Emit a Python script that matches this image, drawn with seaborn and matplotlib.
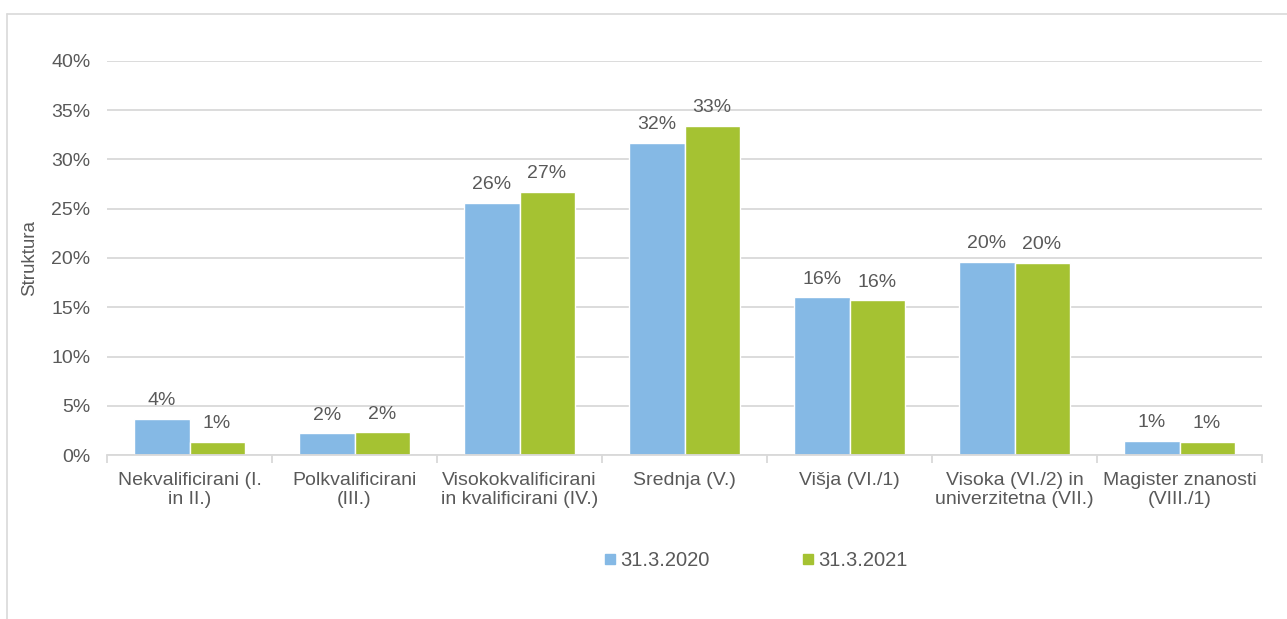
import pandas as pd
import seaborn as sns
import matplotlib.pyplot as plt
from matplotlib.lines import Line2D
from matplotlib.ticker import FixedLocator, PercentFormatter

# Data
categories = ["Nekvalificirani (I.\nin II.)", "Polkvalificirani\n(III.)",
              "Visokokvalificirani\nin kvalificirani (IV.)", "Srednja (V.)",
              "Višja (VI./1)", "Visoka (VI./2) in\nuniverzitetna (VII.)",
              "Magister znanosti\n(VIII./1)"]
series = ["31.3.2020", "31.3.2021"]
values_2020 = [3.65, 2.2, 25.6, 31.7, 16.0, 19.6, 1.45]
values_2021 = [1.35, 2.3, 26.7, 33.4, 15.7, 19.5, 1.35]

df = pd.DataFrame({
    "kategorija": categories * 2,
    "datum": [series[0]] * len(categories) + [series[1]] * len(categories),
    "delez": values_2020 + values_2021,
})

text_col = "#595959"
grid_col = "#D9D9D9"
colors = ["#85B9E5", "#A5C232"]

sns.set_theme(style="white")
plt.rcParams["font.family"] = ["Liberation Sans", "DejaVu Sans"]

fig = plt.figure(figsize=(12.87, 6.19), dpi=100)
ax = fig.add_axes([107 / 1287, 1 - 455 / 619, (1262 - 107) / 1287, (455 - 61) / 619])

sns.barplot(data=df, x="kategorija", y="delez", hue="datum", palette=colors,
            width=0.667, gap=0, saturation=1, ax=ax, legend=False)

for cont in ax.containers:
    ax.bar_label(cont, labels=[f"{v:.0f}%" for v in cont.datavalues],
                 padding=7, fontsize=14, color=text_col)

ax.set_ylim(0, 40)
ax.set_yticks(range(0, 41, 5))
ax.yaxis.set_major_formatter(PercentFormatter(decimals=0))
ax.set_xlim(-0.5, len(categories) - 0.5)
ax.grid(axis="y", color=grid_col, linewidth=1.3)
ax.set_axisbelow(True)
for side in ["top", "right", "left"]:
    ax.spines[side].set_visible(False)
ax.spines["bottom"].set_color(grid_col)
ax.spines["bottom"].set_linewidth(1.3)

ax.tick_params(axis="y", length=0, labelsize=14, labelcolor=text_col, pad=12)
ax.tick_params(axis="x", which="major", length=0, labelsize=14, labelcolor=text_col, pad=12)
ax.xaxis.set_minor_locator(FixedLocator([i - 0.5 for i in range(len(categories) + 1)]))
ax.tick_params(axis="x", which="minor", length=6, width=1.3, color=grid_col, bottom=True)

ax.set_xlabel("")
ax.set_ylabel("Struktura", fontsize=13.5, color=text_col, labelpad=9)

handles = [Line2D([], [], marker="s", linestyle="", markersize=7,
                  markerfacecolor=c, markeredgecolor=c) for c in colors]
fig.legend(handles, series, loc="center", bbox_to_anchor=(0.586, 0.094), ncol=2,
           frameon=False, fontsize=14.5, labelcolor=text_col, handletextpad=0.05,
           columnspacing=4.45, handlelength=0.9)

# light frame around the chart (only top and left visible in the reference)
fig.add_artist(Line2D([7 / 1287, 1], [1 - 14 / 619] * 2, color=grid_col, linewidth=1.2))
fig.add_artist(Line2D([7 / 1287] * 2, [0, 1 - 14 / 619], color=grid_col, linewidth=1.2))

plt.savefig("out.png", dpi=100)
